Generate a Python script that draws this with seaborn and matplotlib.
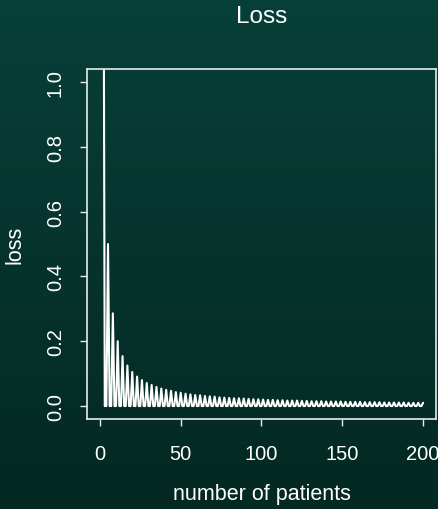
import numpy as np
import pandas as pd
import matplotlib
matplotlib.use("Agg")
import matplotlib.pyplot as plt
import seaborn as sns

# ---- data ----
patients = list(range(2, 201))
# peak losses occur at patients 2, 5, 8, ..., 200; other points are ~0
peak_patients = list(range(2, 201, 3))
peak_loss = [2.0, 0.5, 0.286, 0.2, 0.154, 0.125, 0.105, 0.091, 0.08, 0.071,
             0.065, 0.059, 0.054, 0.05, 0.047, 0.043, 0.041, 0.038, 0.036, 0.034,
             0.033, 0.031, 0.03, 0.029, 0.027, 0.026, 0.025, 0.024, 0.024, 0.023,
             0.022, 0.021, 0.021, 0.02, 0.019, 0.019, 0.018, 0.018, 0.017, 0.017,
             0.017, 0.016, 0.016, 0.015, 0.015, 0.015, 0.014, 0.014, 0.014, 0.014,
             0.013, 0.013, 0.013, 0.013, 0.012, 0.012, 0.012, 0.012, 0.011, 0.011,
             0.011, 0.011, 0.011, 0.01, 0.01, 0.01, 0.01]
trough_loss = 0.0
x_ticks = [0, 50, 100, 150, 200]
y_ticks = [0.0, 0.2, 0.4, 0.6, 0.8, 1.0]
title = "Loss"
x_label = "number of patients"
y_label = "loss"

peak_map = dict(zip(peak_patients, peak_loss))
loss = [peak_map.get(p, trough_loss) for p in patients]
df = pd.DataFrame({"patients": patients, "loss": loss})

sns.set_style("ticks")
plt.rcParams["font.family"] = ["Liberation Sans", "DejaVu Sans"]

W, H = 439, 510
fig = plt.figure(figsize=(W / 100, H / 100), dpi=100)

# gradient background
bg = fig.add_axes([0, 0, 1, 1], zorder=-10)
top = np.array([7, 64, 56]) / 255
bot = np.array([4, 40, 34]) / 255
t = np.linspace(0, 1, 256)[:, None]
grad = (top[None, :] * (1 - t) + bot[None, :] * t)[:, None, :]
bg.imshow(grad, aspect="auto", extent=[0, 1, 0, 1], interpolation="bilinear")
bg.axis("off")

L, R, T, B = 87, 436, 70, 420
ax = fig.add_axes([L / W, 1 - B / H, (R - L) / W, (B - T) / H])
ax.set_facecolor("none")

sns.lineplot(data=df, x="patients", y="loss", ax=ax, color="white",
             linewidth=1.5, estimator=None)

ax.set_xlim(-8, 208)
ax.set_ylim(-0.04, 1.04)
ax.set_xticks(x_ticks)
ax.set_xticklabels([str(v) for v in x_ticks])
ax.set_yticks(y_ticks)
ax.set_yticklabels([f"{v:.1f}" for v in y_ticks], rotation=90, va="center")

for s in ax.spines.values():
    s.set_visible(True)
    s.set_color("#e8ecea")
    s.set_linewidth(1.2)

ax.tick_params(axis="both", colors="#e8ecea", labelcolor="white", length=5,
               width=1.0, labelsize=14.5, direction="out")
ax.tick_params(axis="x", pad=13)
ax.tick_params(axis="y", pad=11)

ax.set_xlabel(x_label, color="white", fontsize=15.5)
ax.set_ylabel(y_label, color="white", fontsize=15.5)
ax.xaxis.set_label_coords(0.5, (B - 495) / (B - T))
ax.yaxis.set_label_coords((15 - L) / (R - L), 0.5)
ax.xaxis.label.set_va("center")
ax.yaxis.label.set_va("center")

fig.text((L + R) / 2 / W, 1 - 17 / H, title, color="white", fontsize=17.5,
         ha="center", va="center")

fig.savefig("out.png", dpi=100)
